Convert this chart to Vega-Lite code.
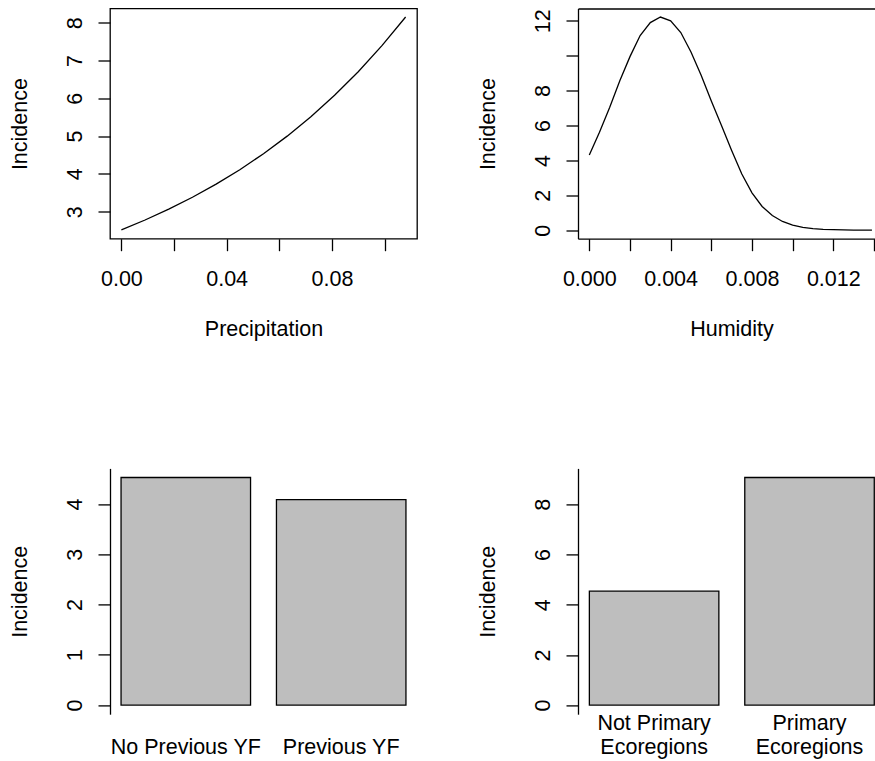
{
  "$schema": "https://vega.github.io/schema/vega-lite/v6.json",
  "background": "white",
  "padding": {"left": 8, "top": 7.5, "right": 0, "bottom": 0},
  "datasets": {
    "precip": [
      {"precipitation": 0.000, "incidence": 2.52},
      {"precipitation": 0.009, "incidence": 2.779},
      {"precipitation": 0.018, "incidence": 3.065},
      {"precipitation": 0.027, "incidence": 3.380},
      {"precipitation": 0.036, "incidence": 3.727},
      {"precipitation": 0.045, "incidence": 4.110},
      {"precipitation": 0.054, "incidence": 4.532},
      {"precipitation": 0.063, "incidence": 4.998},
      {"precipitation": 0.072, "incidence": 5.512},
      {"precipitation": 0.081, "incidence": 6.079},
      {"precipitation": 0.090, "incidence": 6.703},
      {"precipitation": 0.099, "incidence": 7.392},
      {"precipitation": 0.108, "incidence": 8.152}
    ],
    "humid": [
      {"humidity": 0.0000, "incidence": 4.31},
      {"humidity": 0.0005, "incidence": 5.62},
      {"humidity": 0.0010, "incidence": 7.03},
      {"humidity": 0.0015, "incidence": 8.57},
      {"humidity": 0.0020, "incidence": 9.95},
      {"humidity": 0.0025, "incidence": 11.16},
      {"humidity": 0.0030, "incidence": 11.9},
      {"humidity": 0.0035, "incidence": 12.22},
      {"humidity": 0.0040, "incidence": 12.0},
      {"humidity": 0.0045, "incidence": 11.33},
      {"humidity": 0.0050, "incidence": 10.22},
      {"humidity": 0.0055, "incidence": 8.88},
      {"humidity": 0.0060, "incidence": 7.41},
      {"humidity": 0.0065, "incidence": 6.0},
      {"humidity": 0.0070, "incidence": 4.57},
      {"humidity": 0.0075, "incidence": 3.22},
      {"humidity": 0.0080, "incidence": 2.14},
      {"humidity": 0.0085, "incidence": 1.36},
      {"humidity": 0.0090, "incidence": 0.84},
      {"humidity": 0.0095, "incidence": 0.5},
      {"humidity": 0.0100, "incidence": 0.29},
      {"humidity": 0.0105, "incidence": 0.16},
      {"humidity": 0.0110, "incidence": 0.09},
      {"humidity": 0.0115, "incidence": 0.05},
      {"humidity": 0.0120, "incidence": 0.03},
      {"humidity": 0.0125, "incidence": 0.015},
      {"humidity": 0.0130, "incidence": 0.008},
      {"humidity": 0.0135, "incidence": 0.004},
      {"humidity": 0.0139, "incidence": 0.002}
    ],
    "prevyf": [
      {"group": "No Previous YF", "incidence": 4.53},
      {"group": "Previous YF", "incidence": 4.09}
    ],
    "eco": [
      {"group": "Not Primary Ecoregions", "incidence": 4.54},
      {"group": "Primary Ecoregions", "incidence": 9.07}
    ]
  },
  "concat": [
    {
      "width": 307,
      "height": 230.2,
      "view": {"stroke": "black", "strokeWidth": 1.3},
      "data": {"name": "precip"},
      "mark": {"type": "line", "color": "black", "strokeWidth": 1.3},
      "encoding": {
        "x": {
          "field": "precipitation", "type": "quantitative",
          "scale": {"domain": [-0.00432, 0.11232], "nice": false, "zero": false},
          "axis": {
            "title": "Precipitation", "domain": false,
            "values": [0, 0.02, 0.04, 0.06, 0.08, 0.1],
            "labelExpr": "indexof(['0.00','0.04','0.08'], format(datum.value, '.2f')) >= 0 ? format(datum.value, '.2f') : ''",
            "labelBaseline": "alphabetic", "labelPadding": 35,
            "titleX": 153.5, "titleY": 97, "titleBaseline": "alphabetic", "titleAlign": "center"
          }
        },
        "y": {
          "field": "incidence", "type": "quantitative",
          "scale": {"domain": [2.284, 8.376], "nice": false, "zero": false},
          "axis": {
            "title": "Incidence", "domain": false,
            "values": [3, 4, 5, 6, 7, 8],
            "labelExpr": "format(datum.value, 'd')",
            "labelAngle": -90, "labelAlign": "center", "labelBaseline": "alphabetic", "labelPadding": 17,
            "titleX": -84, "titleY": 115.1, "titleAngle": -90, "titleBaseline": "alphabetic", "titleAlign": "center"
          }
        }
      }
    },
    {
      "width": 297,
      "height": 230.2,
      "data": {"name": "humid"},
      "encoding": {
        "y": {
          "field": "incidence", "type": "quantitative",
          "scale": {"domain": [-0.489, 12.709], "nice": false, "zero": false},
          "axis": {
            "title": "Incidence", "domain": true,
            "values": [0, 2, 4, 6, 8, 10, 12],
            "labelExpr": "datum.value == 10 ? '' : format(datum.value, 'd')",
            "labelAngle": -90, "labelAlign": "center", "labelBaseline": "alphabetic", "labelPadding": 17,
            "titleX": -84, "titleY": 115.1, "titleAngle": -90, "titleBaseline": "alphabetic", "titleAlign": "center"
          }
        }
      },
      "layer": [
        {
          "mark": {"type": "line", "color": "black", "strokeWidth": 1.3},
          "encoding": {
            "x": {
              "field": "humidity", "type": "quantitative",
              "scale": {"domain": [-0.000556, 0.01405], "nice": false, "zero": false},
              "axis": {
                "title": "Humidity", "domain": true,
                "values": [0, 0.002, 0.004, 0.006, 0.008, 0.01, 0.012, 0.014],
                "labelExpr": "indexof(['0.000','0.004','0.008','0.012'], format(datum.value, '.3f')) >= 0 ? format(datum.value, '.3f') : ''",
                "labelBaseline": "alphabetic", "labelPadding": 35,
                "titleX": 153.5, "titleY": 97, "titleBaseline": "alphabetic", "titleAlign": "center"
              }
            }
          }
        },
        {
          "mark": {"type": "line", "color": "black", "strokeWidth": 1.3, "strokeOpacity": 0},
          "encoding": {
            "x": {
              "field": "humidity", "type": "quantitative",
              "axis": {"orient": "top", "title": null, "domain": true, "ticks": false, "labels": false, "grid": false}
            }
          }
        }
      ],
      "resolve": {"axis": {"x": "independent"}}
    },
    {
      "width": 307,
      "height": 245.8,
      "data": {"name": "prevyf"},
      "mark": {"type": "bar", "fill": "#bebebe", "stroke": "black", "strokeWidth": 1.3},
      "encoding": {
        "x": {
          "field": "group", "type": "nominal", "sort": null,
          "scale": {"paddingInner": 0.1667, "paddingOuter": 0.0711},
          "axis": {
            "title": null, "domain": false, "ticks": false, "tickSize": 0,
            "labelAngle": 0, "labelAlign": "center", "labelBaseline": "alphabetic", "labelPadding": 39.3
          }
        },
        "y": {
          "field": "incidence", "type": "quantitative",
          "scale": {"domain": [-0.181, 4.711], "nice": false},
          "axis": {
            "title": "Incidence", "domain": true,
            "values": [0, 1, 2, 3, 4],
            "labelExpr": "format(datum.value, 'd')",
            "labelAngle": -90, "labelAlign": "center", "labelBaseline": "alphabetic", "labelPadding": 17,
            "titleX": -84, "titleY": 122.9, "titleAngle": -90, "titleBaseline": "alphabetic", "titleAlign": "center"
          }
        },
        "y2": {"datum": 0}
      }
    },
    {
      "width": 297,
      "height": 245.8,
      "data": {"name": "eco"},
      "mark": {"type": "bar", "fill": "#bebebe", "stroke": "black", "strokeWidth": 1.3},
      "encoding": {
        "x": {
          "field": "group", "type": "nominal", "sort": null,
          "scale": {"paddingInner": 0.1667, "paddingOuter": 0.0389, "align": 0.94},
          "axis": {
            "title": null, "domain": false, "ticks": false, "tickSize": 0,
            "labelExpr": "datum.value == 'Primary Ecoregions' ? ['Primary\u00a0', '\u00a0Ecoregions'] : ['Not Primary\u00a0', '\u00a0Ecoregions']",
            "labelAngle": 0, "labelAlign": "center", "labelBaseline": "alphabetic", "labelPadding": 15.6,
            "labelLineHeight": 24
          }
        },
        "y": {
          "field": "incidence", "type": "quantitative",
          "scale": {"domain": [-0.363, 9.433], "nice": false},
          "axis": {
            "title": "Incidence", "domain": true,
            "values": [0, 2, 4, 6, 8],
            "labelExpr": "format(datum.value, 'd')",
            "labelAngle": -90, "labelAlign": "center", "labelBaseline": "alphabetic", "labelPadding": 17,
            "titleX": -84, "titleY": 122.9, "titleAngle": -90, "titleBaseline": "alphabetic", "titleAlign": "center"
          }
        },
        "y2": {"datum": 0}
      }
    }
  ],
  "columns": 2,
  "spacing": {"row": 228.9, "column": 161},
  "bounds": "flush",
  "align": "each",
  "config": {
    "font": "Liberation Sans",
    "view": {"stroke": null},
    "axis": {
      "labelFont": "Liberation Sans", "titleFont": "Liberation Sans",
      "labelFontSize": 21.5, "titleFontSize": 21.5, "titleFontWeight": "normal",
      "labelColor": "black", "titleColor": "black",
      "domainColor": "black", "domainWidth": 1.3,
      "tickColor": "black", "tickWidth": 1.3, "tickSize": 12,
      "grid": false, "labelOverlap": false, "labelFlush": false, "labelBound": false
    }
  }
}
